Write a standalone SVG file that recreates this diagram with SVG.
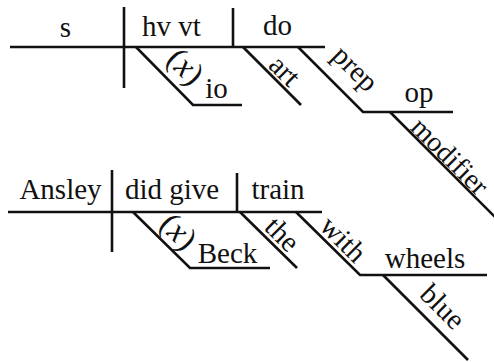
<svg xmlns="http://www.w3.org/2000/svg" width="494" height="362" viewBox="0 0 494 362">
<style>
.ln{fill:none;stroke:#111;stroke-width:2.6;stroke-linecap:butt;stroke-linejoin:miter}
.t text{font-size:29px;fill:#111}
.t text.x{font-size:33px}
.m{text-anchor:middle}
.it{font-style:italic}
</style>
<rect width="494" height="362" fill="#fff"/>
<g id="connectors">
<path class="ln" d="M10,47H325"/>
<path class="ln" d="M124,7V88"/>
<path class="ln" d="M233,8V47"/>
<path class="ln" d="M136,47L193,105H242"/>
<path class="ln" d="M243,47L301,105"/>
<path class="ln" d="M298,47L363,112H453"/>
<path class="ln" d="M390,112L496,218"/>
<path class="ln" d="M8,212H322"/>
<path class="ln" d="M112,170V252"/>
<path class="ln" d="M237,173V212"/>
<path class="ln" d="M133,212L190,268H270"/>
<path class="ln" d="M240,212L297,268"/>
<path class="ln" d="M296,212L360,275H487"/>
<path class="ln" d="M383,275L468,360"/>
</g>
<g class="t" font-family="Liberation Serif, DejaVu Serif, serif">
<g id="n-s"><text class="m" x="65.5" y="37">s</text></g>
<g id="n-hvvt"><text x="142" y="36">hv vt</text></g>
<g id="n-do"><text class="m" x="277.5" y="35">do</text></g>
<g id="n-x1"><text class="m x" transform="translate(184,68) rotate(45)" y="8.4">(<tspan class="it">x</tspan>)</text></g>
<g id="n-io"><text class="m" x="216.5" y="98">io</text></g>
<g id="n-art"><text class="m" transform="translate(284,71.5) rotate(45)" y="8.4">art</text></g>
<g id="n-prep"><text class="m" transform="translate(351,73) rotate(45)" y="3.3">prep</text></g>
<g id="n-op"><text class="m" x="419" y="102">op</text></g>
<g id="n-modifier"><text class="m" transform="translate(450,156) rotate(45)" y="9.5" style="font-size:28px">modifier</text></g>
<g id="n-ansley"><text class="m" x="60.5" y="199">Ansley</text></g>
<g id="n-didgive"><text class="m" x="172" y="199">did give</text></g>
<g id="n-train"><text class="m" x="278" y="199">train</text></g>
<g id="n-x2"><text class="m x" transform="translate(177,233) rotate(45)" y="8.4">(<tspan class="it">x</tspan>)</text></g>
<g id="n-beck"><text class="m" x="227.5" y="263">Beck</text></g>
<g id="n-the"><text class="m" transform="translate(282.5,234) rotate(45)" y="9.9">the</text></g>
<g id="n-with"><text class="m" transform="translate(343.5,239) rotate(45)" y="9.9">with</text></g>
<g id="n-wheels"><text class="m" x="425" y="268">wheels</text></g>
<g id="n-blue"><text class="m" transform="translate(443,306.5) rotate(45)" y="9.9">blue</text></g>
</g>
</svg>
